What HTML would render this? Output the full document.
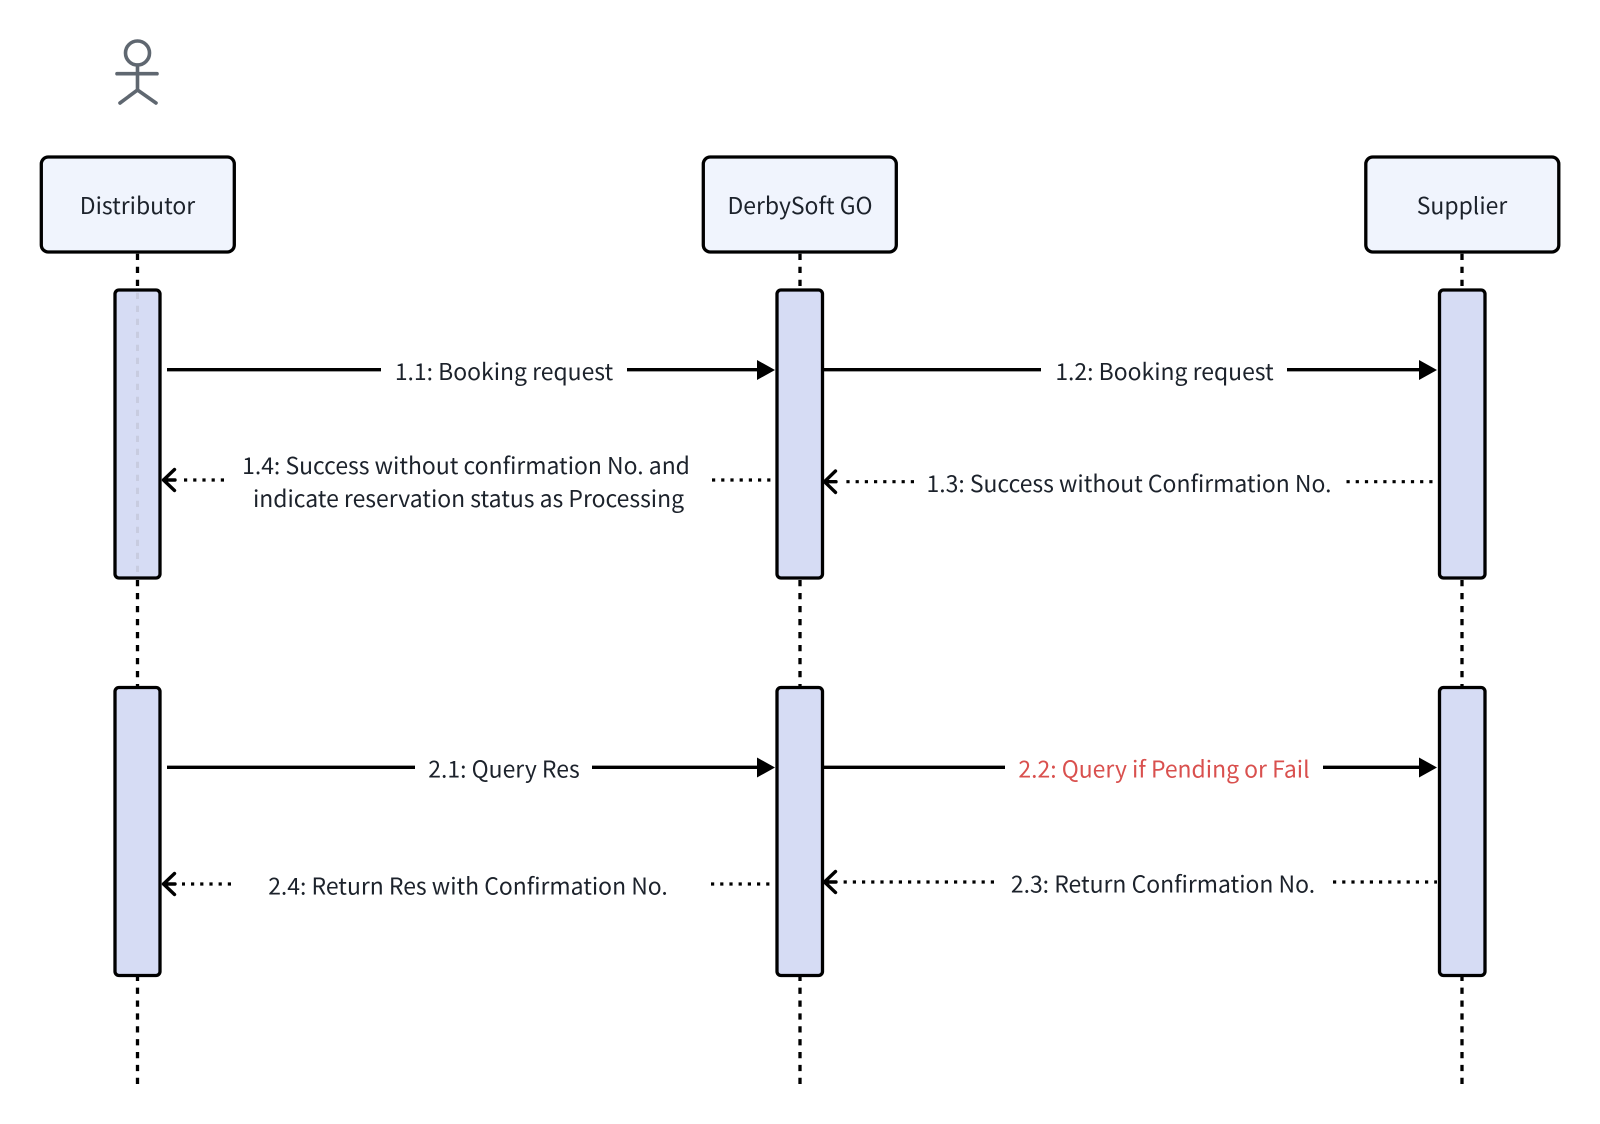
<!DOCTYPE html>
<html><head><meta charset="utf-8"><style>
html,body{margin:0;padding:0;background:#fff;width:1600px;height:1124px;overflow:hidden}
svg{display:block}
text{font-family:"Noto Sans CJK SC","Noto Sans CJK JP","Liberation Sans",sans-serif;font-size:22.95px;fill:#1c222b;text-anchor:middle}
.life{stroke:#000;stroke-width:3.3;stroke-dasharray:6.3 6.7;fill:none}
.box{fill:#f0f4fd;stroke:#000;stroke-width:3.3}
.act{fill:#d6dcf4;stroke:#000;stroke-width:3.3}
.sol{stroke:#000;stroke-width:3.3;fill:none}
.dot{stroke:#000;stroke-width:3.2;stroke-dasharray:3.2 6;fill:none}
.bar{stroke:#000;stroke-width:3.4;fill:none;stroke-linecap:round;stroke-linejoin:round}
</style></head><body>
<svg width="1600" height="1124" viewBox="0 0 1600 1124" xmlns="http://www.w3.org/2000/svg">
<!-- lifelines -->
<path class="life" d="M137.500 253.700V290M800 253.700V290M1462 253.700V290"/>
<path class="life" d="M137.500 580V687M800 580V687M1462 580V687"/>
<path class="life" style="stroke-dasharray:6.3 6.57" d="M137.500 1084V976M800 1084V976M1462 1084V976"/>
<!-- actor -->
<g stroke="#5f6770" stroke-width="3.6" fill="none" stroke-linecap="round" stroke-linejoin="round">
<circle cx="137.500" cy="53" r="12"/>
<path d="M137.500 65V90M117 73.700H157M120 103L137.500 90L156 103"/>
</g>
<!-- participants -->
<rect class="box" x="41.300" y="157" width="193" height="95" rx="7"/>
<rect class="box" x="703.300" y="157" width="193" height="95" rx="7"/>
<rect class="box" x="1365.800" y="157" width="193" height="95" rx="7"/>
<text x="137.500" y="214">Distributor</text>
<text x="800" y="214">DerbySoft GO</text>
<text x="1462" y="214">Supplier</text>
<!-- activations -->
<rect class="act" x="115" y="290" width="45" height="288" rx="4"/>
<path d="M137.500 292.700V575" stroke="#c8cce0" stroke-width="3" stroke-dasharray="6.3 6.7" fill="none"/>
<rect class="act" x="777" y="290" width="45.500" height="288" rx="4"/>
<rect class="act" x="1439.500" y="290" width="45.500" height="288" rx="4"/>
<rect class="act" x="115" y="687.500" width="45" height="288" rx="4"/>
<rect class="act" x="777" y="687.500" width="45.500" height="288" rx="4"/>
<rect class="act" x="1439.500" y="687.500" width="45.500" height="288" rx="4"/>
<!-- 1.1 -->
<path class="sol" d="M167 369.700H381M627 369.700H760"/>
<path d="M757 360L775 370L757 380Z" fill="#000"/>
<text x="504" y="379.800">1.1: Booking request</text>
<!-- 1.2 -->
<path class="sol" d="M824 369.700H1041M1287 369.700H1422"/>
<path d="M1419 360L1437 370L1419 380Z" fill="#000"/>
<text x="1164.500" y="379.800">1.2: Booking request</text>
<!-- 1.4 -->
<path class="dot" d="M224 480H182M712 480H775"/>
<path class="bar" d="M174.500 469.500L163.500 480L174.500 490.500M163.500 480H175"/>
<text x="466" y="473.800">1.4: Success without confirmation No. and</text>
<text x="468.500" y="506.800">indicate reservation status as Processing</text>
<!-- 1.3 -->
<path class="dot" d="M914 481.700H842M1346.500 481.700H1437"/>
<path class="bar" d="M835.500 471L824.500 481.700L835.500 492.400M824.500 481.700H836"/>
<text x="1129" y="491.800">1.3: Success without Confirmation No.</text>
<!-- 2.1 -->
<path class="sol" d="M167 767.300H415M592 767.300H760"/>
<path d="M757 757.500L775 767.500L757 777.500Z" fill="#000"/>
<text x="504" y="777.300">2.1: Query Res</text>
<!-- 2.2 -->
<path class="sol" d="M824 767.300H1005M1323 767.300H1422"/>
<path d="M1419 757.500L1437 767.500L1419 777.500Z" fill="#000"/>
<text x="1164" y="777.300" style="fill:#d9504e">2.2: Query if Pending or Fail</text>
<!-- 2.4 -->
<path class="dot" d="M231 884H182M711 884H775"/>
<path class="bar" d="M174.500 873.500L163.500 884L174.500 894.500M163.500 884H175"/>
<text x="468" y="894.300">2.4: Return Res with Confirmation No.</text>
<!-- 2.3 -->
<path class="dot" d="M994 882H842M1333 882H1437"/>
<path class="bar" d="M835.500 871.500L824.500 882L835.500 892.500M824.500 882H836"/>
<text x="1163" y="892.300">2.3: Return Confirmation No.</text>
</svg>
</body></html>
